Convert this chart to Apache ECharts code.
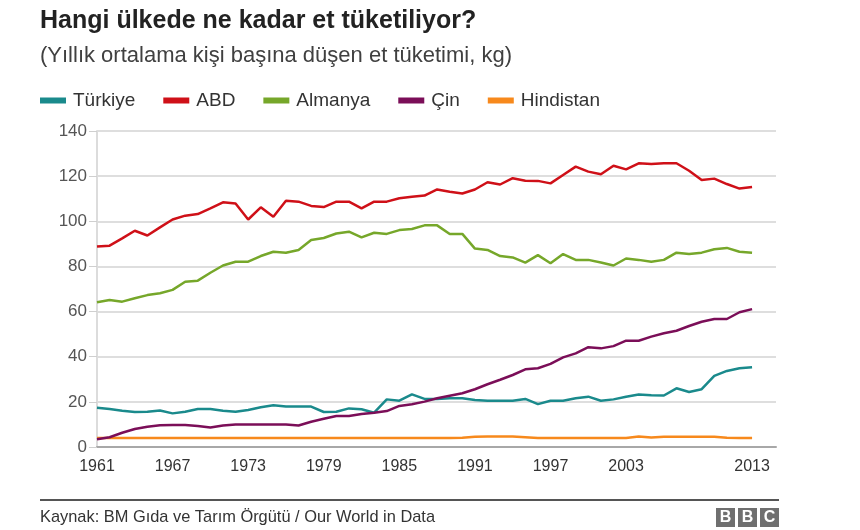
<!DOCTYPE html>
<html>
<head>
<meta charset="utf-8">
<script src="https://cdn.jsdelivr.net/npm/echarts@6/dist/echarts.min.js"></script>
<style>
html,body{margin:0;padding:0;background:#fff;}
#chart{width:860px;height:530px;}
</style>
</head>
<body>
<div id="chart"></div>
<script>
var years = [1961,1962,1963,1964,1965,1966,1967,1968,1969,1970,
  1971,1972,1973,1974,1975,1976,1977,1978,1979,1980,
  1981,1982,1983,1984,1985,1986,1987,1988,1989,1990,
  1991,1992,1993,1994,1995,1996,1997,1998,1999,2000,
  2001,2002,2003,2004,2005,2006,2007,2008,2009,2010,
  2011,2012,2013];
var xTickLabels = [1961,1967,1973,1979,1985,1991,1997,2003,2013];
var yTicks = [0,20,40,60,80,100,120,140];

var turkiye = [17.4,16.8,16.1,15.5,15.6,16.2,14.9,15.6,16.8,16.8,
  16.1,15.6,16.4,17.6,18.5,17.9,17.9,17.9,15.5,15.6,
  17.1,16.7,15.2,21.1,20.5,23.3,21.3,21.3,21.6,21.6,
  20.8,20.5,20.5,20.5,21.3,19.0,20.5,20.5,21.6,22.3,
  20.5,21.1,22.3,23.3,22.9,22.8,26.0,24.4,25.6,31.5,
  33.7,34.9,35.3];
var abd = [88.8,89.2,92.4,95.8,93.7,97.3,100.8,102.5,103.2,105.7,
  108.4,107.9,100.8,106.2,102.0,109.1,108.7,106.8,106.3,108.7,
  108.7,105.7,108.7,108.7,110.2,110.9,111.4,114.1,113.1,112.3,
  114.1,117.3,116.3,119.1,118.0,117.9,116.8,120.5,124.2,122.0,
  120.8,124.6,123.0,125.7,125.4,125.7,125.7,122.4,118.3,118.9,
  116.5,114.5,115.2];
var almanya = [64.1,65.1,64.4,65.9,67.3,68.1,69.6,73.2,73.7,77.2,
  80.4,82.1,82.1,84.6,86.5,86.1,87.3,91.7,92.6,94.6,
  95.4,92.9,94.9,94.4,96.1,96.6,98.2,98.2,94.4,94.4,
  87.9,87.3,84.6,84.0,81.7,85.0,81.4,85.5,82.9,82.9,
  81.7,80.4,83.5,82.9,82.1,82.9,86.1,85.5,86.1,87.6,
  88.2,86.5,86.1];
var cin = [3.4,4.3,6.3,8.0,9.0,9.6,9.7,9.7,9.3,8.6,
  9.5,10.0,10.0,10.0,10.0,10.0,9.5,11.2,12.5,13.7,
  13.7,14.6,15.2,15.9,18.2,18.9,20.1,21.6,22.7,23.8,
  25.6,27.8,29.8,31.9,34.4,34.9,36.8,39.7,41.5,44.2,
  43.7,44.7,47.1,47.1,48.9,50.4,51.5,53.6,55.5,56.7,
  56.7,59.7,61.1];
var hindistan = [4.0,4.0,4.0,4.0,4.0,4.0,4.0,4.0,4.0,4.0,
  4.0,4.0,4.0,4.0,4.0,4.0,4.0,4.0,4.0,4.0,
  4.0,4.0,4.0,4.0,4.0,4.0,4.0,4.0,4.0,4.1,
  4.5,4.6,4.6,4.6,4.3,4.0,4.0,4.0,4.0,4.0,
  4.0,4.0,4.0,4.6,4.2,4.5,4.5,4.5,4.5,4.5,
  4.1,4.0,4.0];

var seriesNames = ['Türkiye','ABD','Almanya','Çin','Hindistan'];
var seriesColors = ['#1a8a8c','#cf1018','#76a72a','#7b0e58','#f7891c'];
var seriesValues = [turkiye, abd, almanya, cin, hindistan];

var FONT = '"Liberation Sans", Arial, Helvetica, sans-serif';

function pairs(vals){ return years.map(function(y,i){ return [y, vals[i]]; }); }

var chart = echarts.init(document.getElementById('chart'), null, {renderer:'canvas'});
var option = {
  animation: false,
  backgroundColor: '#fff',
  title: [
    {text:'Hangi ülkede ne kadar et tüketiliyor?', left:40, top:9, padding:0,
     textStyle:{fontFamily:FONT, fontSize:25, fontWeight:'bold', color:'#222'}},
    {text:'(Yıllık ortalama kişi başına düşen et tüketimi, kg)', left:40, top:45, padding:0,
     textStyle:{fontFamily:FONT, fontSize:22, fontWeight:'normal', color:'#404040'}}
  ],
  legend: {
    left: 40, top: 91, padding:0, icon: 'rect', itemWidth: 26, itemHeight: 6, itemGap: 28,
    textStyle: {fontFamily:FONT, fontSize:19, color:'#333', padding:[0,0,0,2]},
    data: seriesNames
  },
  grid: {left:97, right:84, top:131, bottom:83},
  xAxis: {
    type:'value', min:1961, max:2014.9, interval:1,
    axisLine:{show:true, lineStyle:{color:'#a8a8a8', width:2}},
    axisTick:{show:false},
    splitLine:{show:false},
    axisLabel:{
      fontFamily:FONT, fontSize:16, color:'#333', margin:12,
      showMaxLabel:false,
      formatter:function(v){ return xTickLabels.indexOf(v) >= 0 ? String(v) : ''; }
    }
  },
  yAxis: {
    type:'value', min:0, max:140, interval:20,
    axisLine:{show:true, lineStyle:{color:'#dcdcdc', width:2}},
    axisTick:{show:true, length:8, lineStyle:{color:'#cfcfcf', width:1}},
    splitLine:{show:true, lineStyle:{color:'#dedede', width:2}},
    axisLabel:{fontFamily:FONT, fontSize:17, color:'#555', margin:10}
  },
  series: seriesNames.map(function(n,i){
    return {name:n, type:'line', data:pairs(seriesValues[i]), showSymbol:false, symbol:'none',
      lineStyle:{color:seriesColors[i], width:2.5}, itemStyle:{color:seriesColors[i]},
      z: 2 + (i===4?0:i)};
  }),
  graphic: [
    {type:'line', shape:{x1:40,y1:500,x2:779,y2:500}, style:{stroke:'#555', lineWidth:2}},
    {type:'text', left:40, top:509, style:{text:'Kaynak: BM Gıda ve Tarım Örgütü / Our World in Data', font:'16.4px '+FONT, fill:'#333'}},
    {type:'rect', shape:{x:716,y:508,width:19,height:19}, style:{fill:'#6f6f6f'}},
    {type:'rect', shape:{x:738,y:508,width:19,height:19}, style:{fill:'#6f6f6f'}},
    {type:'rect', shape:{x:760,y:508,width:19,height:19}, style:{fill:'#6f6f6f'}},
    {type:'text', x:725.5, y:518, style:{text:'B', font:'bold 16px '+FONT, fill:'#fff', textAlign:'center', textVerticalAlign:'middle'}},
    {type:'text', x:747.5, y:518, style:{text:'B', font:'bold 16px '+FONT, fill:'#fff', textAlign:'center', textVerticalAlign:'middle'}},
    {type:'text', x:769.5, y:518, style:{text:'C', font:'bold 16px '+FONT, fill:'#fff', textAlign:'center', textVerticalAlign:'middle'}}
  ]
};
chart.setOption(option);
</script>
</body>
</html>
